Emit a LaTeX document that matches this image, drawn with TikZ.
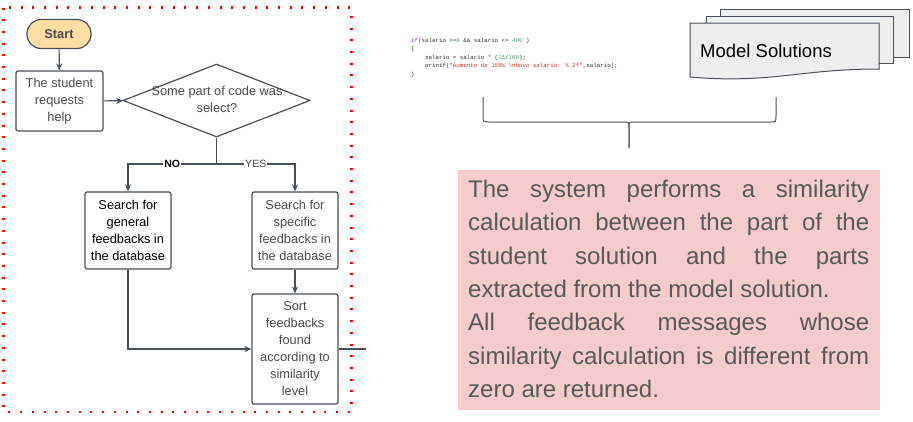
\documentclass[tikz,border=0pt]{standalone}
\usepackage{fontspec}
\setmainfont{Liberation Sans}
\newfontfamily\codefont{Liberation Mono}
\usetikzlibrary{shapes.geometric,arrows.meta}
\definecolor{ln}{HTML}{4A505A}
\definecolor{tx}{HTML}{4D4D4D}
\definecolor{peach}{HTML}{FFDDA3}
\definecolor{pink}{HTML}{F4CCCC}
\definecolor{ptx}{HTML}{595959}
\definecolor{sheet}{HTML}{EEEEEE}
\definecolor{kw}{HTML}{A626A4}
\definecolor{num}{HTML}{3E9B6E}
\definecolor{str}{HTML}{C0392B}

\begin{document}
\begin{tikzpicture}[x=1pt,y=-1pt,
  box/.style={draw=ln,line width=1.2pt,rounded corners=2pt,fill=white,align=center,text=tx,font=\fontsize{12.8}{17}\selectfont,inner sep=0pt},
  flow/.style={draw=ln,line width=1.2pt,-{Stealth[length=7pt,width=6pt]}},
  lbl/.style={fill=white,inner sep=1pt,font=\fontsize{10.5}{12}\selectfont}]
\useasboundingbox (0,0) rectangle (913,421);
\draw[red,line width=2.8pt,dash pattern=on 2pt off 9.7pt] (3.5,7.5) rectangle (351.5,412);
\node[box,rounded corners=14pt,fill=peach,minimum width=64pt,minimum height=29pt,font=\fontsize{12.8}{17}\selectfont\bfseries] (s) at (59,34) {Start};
\node[box,minimum width=87pt,minimum height=60pt] (h) at (59.5,101) {The student\\requests\\help};
\node[diamond,draw=ln,line width=1.2pt,minimum width=187pt,minimum height=73pt,inner sep=0pt] (d) at (216.5,100.5) {};
\node[text=tx,align=center,inner sep=0pt,font=\fontsize{12.8}{17}\selectfont] (q) at (217,99.5) {Some part of code was\\select?};
\node[box,minimum width=86pt,minimum height=77pt,text=black] (g) at (128,230.5) {Search for\\general\\feedbacks in\\the database};
\node[box,minimum width=86pt,minimum height=77pt] (f) at (295,230.5) {Search for\\specific\\feedbacks in\\the database};
\node[box,minimum width=86pt,minimum height=110pt] (o) at (295,349) {Sort\\feedbacks\\found\\according to\\similarity\\level};
\coordinate (j) at (216.5,164);
\coordinate (e) at (366,349);
\draw[flow] (s) -- (h);
\draw[flow] (h) -- (d);
\draw[ln,line width=1.2pt] (d.south) -- (j);
\draw[flow] (j) -| node[lbl,pos=0.25,text=black,font=\fontsize{10.5}{12}\selectfont\bfseries]{NO} (g);
\draw[flow] (j) -| node[lbl,pos=0.25,text=tx]{YES} (f);
\draw[flow] (g) |- (o);
\draw[flow] (f) -- (o);
\draw[ln,line width=1.2pt] (o) -- (e);
\node[anchor=north west,align=left,inner sep=0pt,text=black!80,font=\codefont\fontsize{5.8}{8.5}\selectfont] (c) at (411,38) {\textcolor{kw}{if}(salario >=\textcolor{num}{0} \&\& salario <= \textcolor{num}{400} )\\\{\\\phantom{xxxx}salario = salario * (\textcolor{num}{15}/\textcolor{num}{100});\\\phantom{xxxx}printf(\textcolor{str}{"Aumento de 15\%\% \textbackslash nNovo salario: \%.2f"},salario);\\\}};
\draw[ln,fill=sheet,line width=1pt] (720,9) rectangle (909,57);
\draw[ln,fill=sheet,line width=1pt] (706,16) rectangle (893,63);
\draw[ln,fill=sheet,line width=1pt] (690,23) -- (879,23) -- (879,69) .. controls (800,69) and (770,84) .. (690,77) -- cycle;
\node[anchor=base west,inner sep=0pt,font=\fontsize{18.5}{22}\selectfont] (m) at (700,57) {Model Solutions};
\draw[ln,line width=1pt] (483,97) -- (483,116) .. controls (483,122) .. (489,122) -- (623,122) .. controls (629,122) .. (629,128) -- (629,148);
\draw[ln,line width=1pt] (629,148) -- (629,128) .. controls (629,122) .. (635,122) -- (770,122) .. controls (776,122) .. (776,116) -- (776,97);
\fill[pink] (458,170) rectangle (880,410);
\node[anchor=north west,text width=401pt,align=justify,inner sep=0pt,text=ptx,font=\fontsize{24}{33.3}\selectfont] (p) at (468,180) {The system performs a similarity\linebreak calculation between the part of the\linebreak student solution and the parts\linebreak extracted from the model solution.\newline All feedback messages whose\linebreak similarity calculation is different from\linebreak zero are returned.};
\end{tikzpicture}
\end{document}
